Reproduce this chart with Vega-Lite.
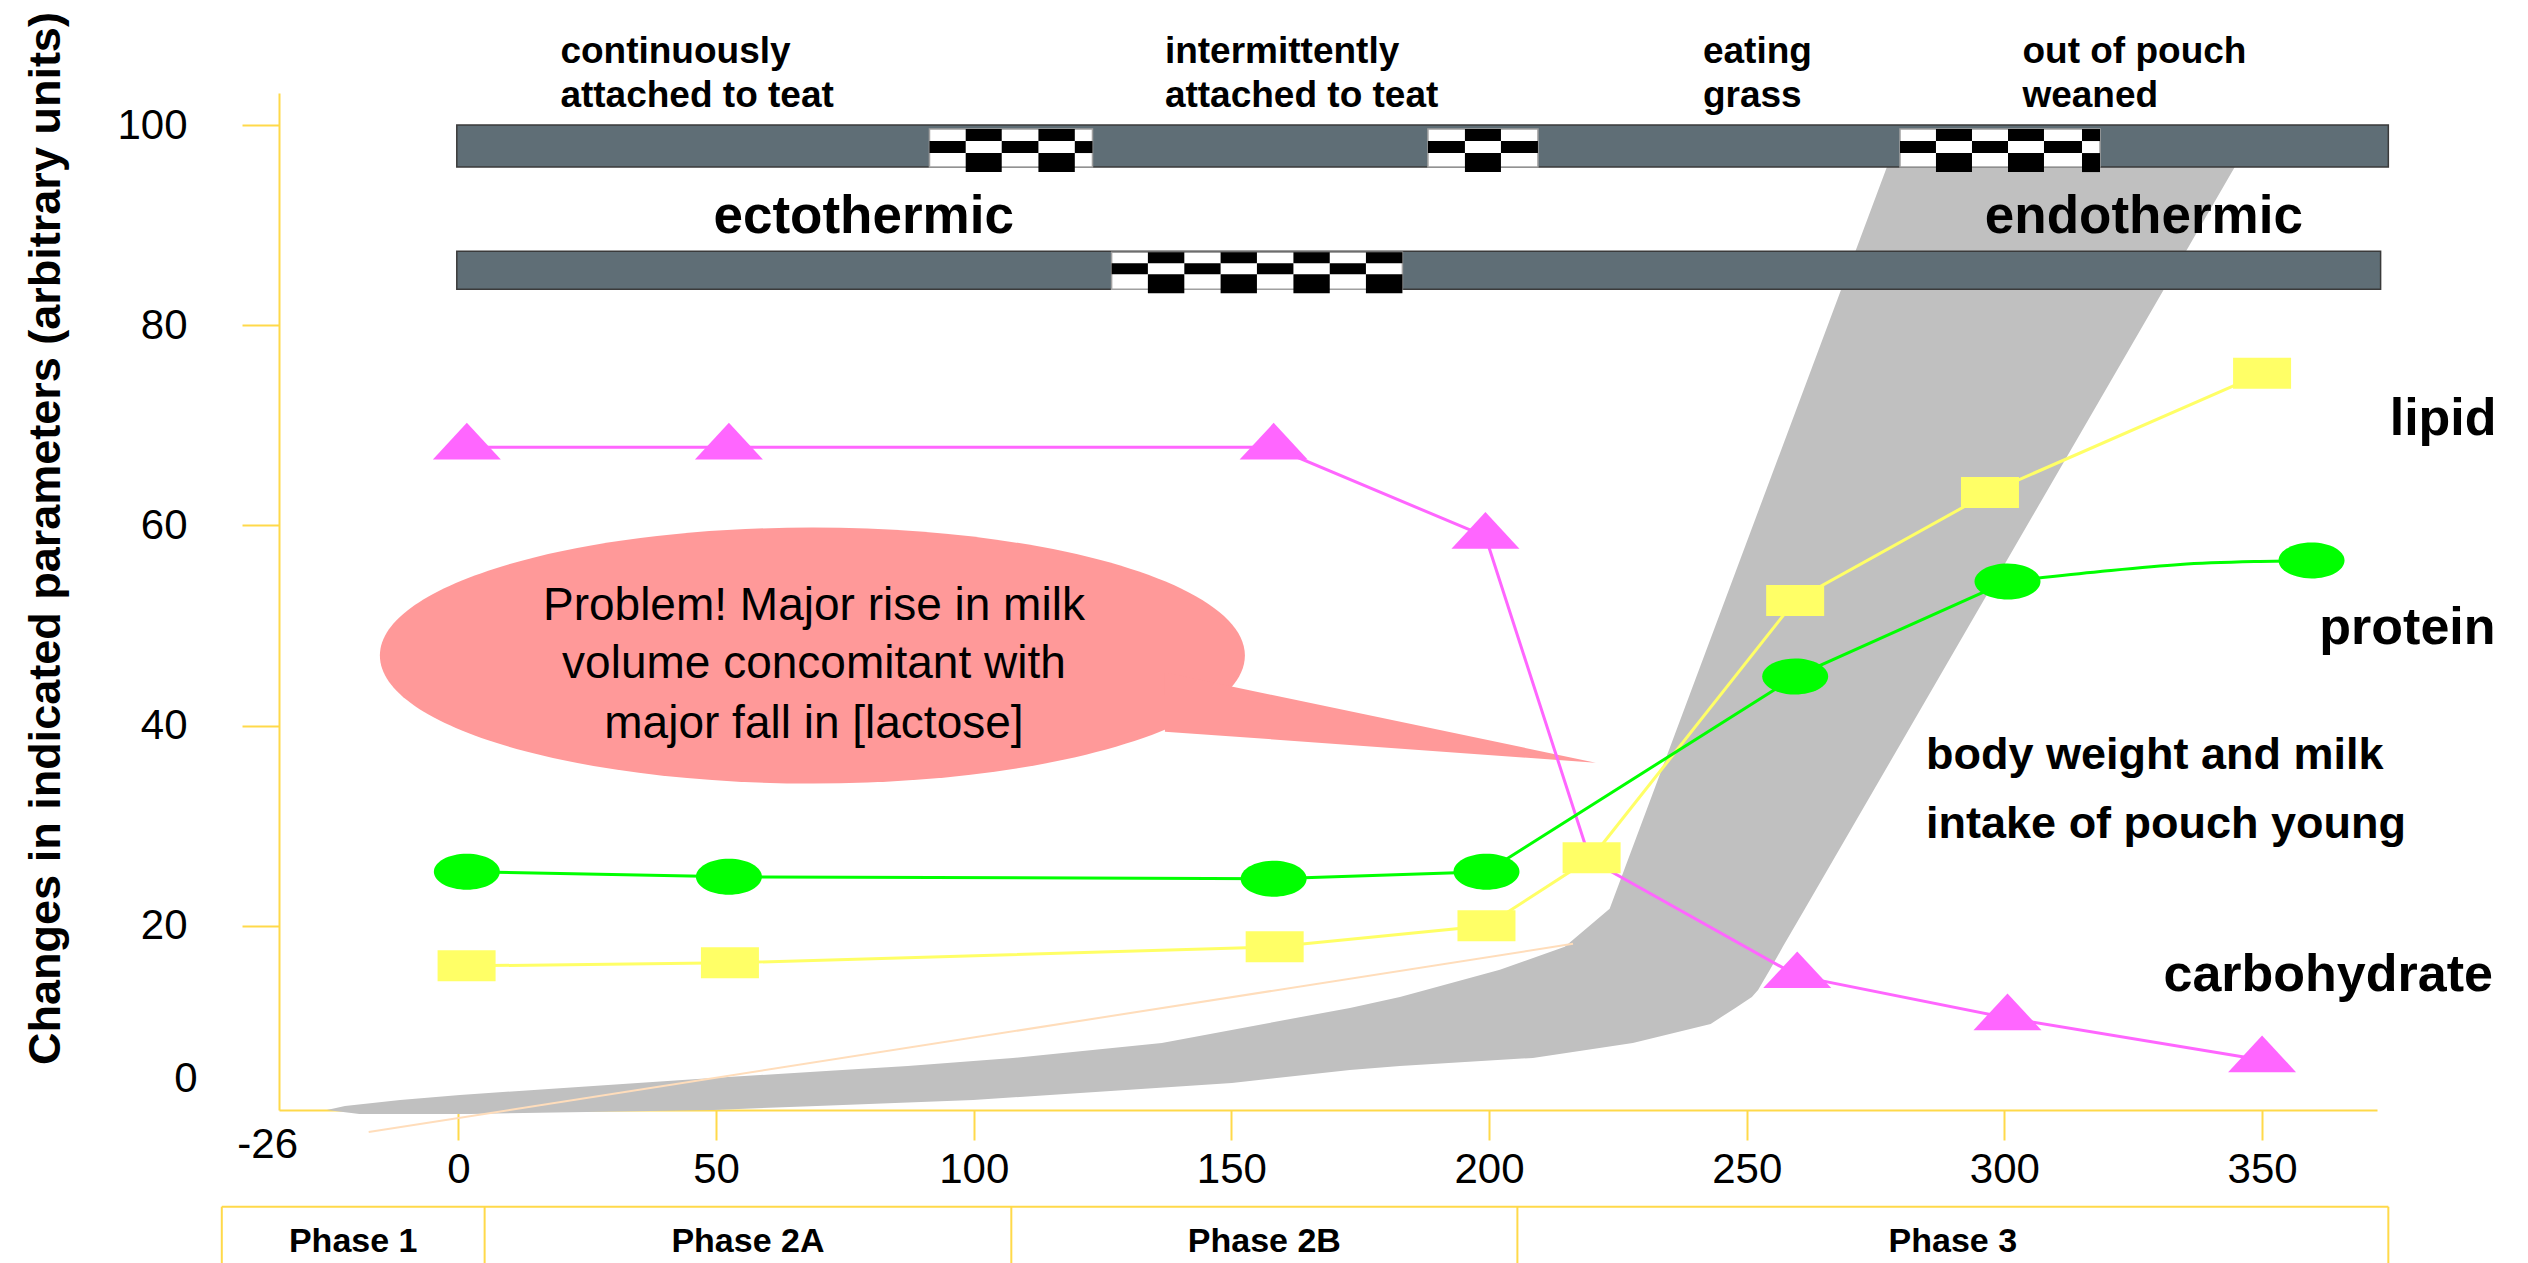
{
  "$schema": "https://vega.github.io/schema/vega-lite/v6.json",
  "autosize": {"type": "none"},
  "padding": {"left": 279, "top": 93, "right": 151, "bottom": 153},
  "width": 2098,
  "height": 1017,
  "background": "white",
  "config": {"view": {"stroke": null}, "font": "Liberation Sans"},
  "datasets": {
    "band": [
      {"y": 98.5, "xl": 279.2, "xr": 347.9},
      {"y": 95.8, "xl": 277.2, "xr": 344.7},
      {"y": 21.7, "xl": 223.4, "xr": 261.3},
      {"y": 17.9, "xl": 214.7, "xr": 257.0},
      {"y": 15.6, "xl": 202.1, "xr": 254.5},
      {"y": 13.6, "xl": 187.7, "xr": 252.2},
      {"y": 12.9, "xl": 182.7, "xr": 251.0},
      {"y": 11.8, "xl": 173.0, "xr": 247.8},
      {"y": 10.2, "xl": 156.3, "xr": 243.0},
      {"y": 8.3, "xl": 136.5, "xr": 227.9},
      {"y": 6.8, "xl": 107.6, "xr": 208.5},
      {"y": 6.0, "xl": 87.2, "xr": 182.7},
      {"y": 5.6, "xl": 74.5, "xr": 173.0},
      {"y": 4.8, "xl": 49.3, "xr": 158.8},
      {"y": 4.3, "xl": 34.8, "xr": 150.1},
      {"y": 3.1, "xl": 0.3, "xr": 114.8},
      {"y": 2.6, "xl": -11.3, "xr": 99.9},
      {"y": 2.0, "xl": -22.0, "xr": 69.6},
      {"y": 1.6, "xl": -25.5, "xr": 49.4},
      {"y": 1.2, "xl": -19.2, "xr": 2.2}
    ],
    "peach": [{"x": -17.4, "y": -0.6}, {"x": 216.3, "y": 18.2}],
    "bars": [
      {"x": -0.3, "x2": 374.5, "y": 100.0, "y2": 95.8},
      {"x": -0.3, "x2": 373.0, "y": 87.4, "y2": 83.6}
    ],
    "checkWhite": [
      {"x": 91.42, "x2": 123.05, "y": 99.6, "y2": 95.8},
      {"x": 188.14, "x2": 209.49, "y": 99.6, "y2": 95.8},
      {"x": 279.74, "x2": 318.55, "y": 99.6, "y2": 95.8},
      {"x": 126.76, "x2": 183.19, "y": 87.3, "y2": 83.6}
    ],
    "checkBlack": [
      {"x": 98.45, "x2": 105.44, "y": 99.6, "y2": 98.4},
      {"x": 112.56, "x2": 119.62, "y": 99.6, "y2": 98.4},
      {"x": 91.42, "x2": 98.45, "y": 98.4, "y2": 97.2},
      {"x": 105.44, "x2": 112.56, "y": 98.4, "y2": 97.2},
      {"x": 119.62, "x2": 123.05, "y": 98.4, "y2": 97.2},
      {"x": 98.45, "x2": 105.44, "y": 97.2, "y2": 95.3},
      {"x": 112.56, "x2": 119.62, "y": 97.2, "y2": 95.3},
      {"x": 195.32, "x2": 202.31, "y": 99.6, "y2": 98.4},
      {"x": 188.14, "x2": 195.32, "y": 98.4, "y2": 97.2},
      {"x": 202.31, "x2": 209.49, "y": 98.4, "y2": 97.2},
      {"x": 195.32, "x2": 202.31, "y": 97.2, "y2": 95.3},
      {"x": 286.72, "x2": 293.71, "y": 99.6, "y2": 98.4},
      {"x": 300.7, "x2": 307.68, "y": 99.6, "y2": 98.4},
      {"x": 315.06, "x2": 318.55, "y": 99.6, "y2": 98.4},
      {"x": 279.74, "x2": 286.72, "y": 98.4, "y2": 97.2},
      {"x": 293.71, "x2": 300.7, "y": 98.4, "y2": 97.2},
      {"x": 307.68, "x2": 315.06, "y": 98.4, "y2": 97.2},
      {"x": 286.72, "x2": 293.71, "y": 97.2, "y2": 95.3},
      {"x": 300.7, "x2": 307.68, "y": 97.2, "y2": 95.3},
      {"x": 315.06, "x2": 318.55, "y": 97.2, "y2": 95.3},
      {"x": 133.8, "x2": 140.87, "y": 87.3, "y2": 86.2},
      {"x": 147.91, "x2": 154.96, "y": 87.3, "y2": 86.2},
      {"x": 162.04, "x2": 169.09, "y": 87.3, "y2": 86.2},
      {"x": 176.11, "x2": 183.19, "y": 87.3, "y2": 86.2},
      {"x": 126.76, "x2": 133.8, "y": 86.2, "y2": 85.1},
      {"x": 140.87, "x2": 147.91, "y": 86.2, "y2": 85.1},
      {"x": 154.96, "x2": 162.04, "y": 86.2, "y2": 85.1},
      {"x": 169.09, "x2": 176.11, "y": 86.2, "y2": 85.1},
      {"x": 133.8, "x2": 140.87, "y": 85.1, "y2": 83.2},
      {"x": 147.91, "x2": 154.96, "y": 85.1, "y2": 83.2},
      {"x": 162.04, "x2": 169.09, "y": 85.1, "y2": 83.2},
      {"x": 176.11, "x2": 183.19, "y": 85.1, "y2": 83.2}
    ],
    "bubble": [{"x": 68.7, "y": 47.0}],
    "tail": [{"x": 137.1, "y": 45.3, "y2": 39.4}, {"x": 220.7, "y": 36.3, "y2": 36.3}],
    "bubbleText": [
      {"x": 69.0, "y": 52.0, "t": "Problem! Major rise in milk"},
      {"x": 69.0, "y": 46.2, "t": "volume concomitant with"},
      {"x": 69.0, "y": 40.2, "t": "major fall in [lactose]"}
    ],
    "carb": [
      {"x": 1.65, "y": 67.8, "m": 1},
      {"x": 52.5, "y": 67.8, "m": 1},
      {"x": 158.2, "y": 67.8, "m": 1},
      {"x": 199.3, "y": 58.9, "m": 1},
      {"x": 219.6, "y": 26.6, "m": 0},
      {"x": 259.8, "y": 15.0, "m": 1},
      {"x": 300.6, "y": 10.8, "m": 1},
      {"x": 350.0, "y": 6.6, "m": 1}
    ],
    "lipid": [
      {"x": 1.6, "y": 16.0},
      {"x": 52.7, "y": 16.3},
      {"x": 158.4, "y": 17.9},
      {"x": 199.5, "y": 20.0},
      {"x": 219.9, "y": 26.8},
      {"x": 259.4, "y": 52.5},
      {"x": 297.2, "y": 63.3},
      {"x": 350.0, "y": 75.2}
    ],
    "protein": [
      {"x": 1.65, "y": 25.4},
      {"x": 52.5, "y": 24.9},
      {"x": 158.2, "y": 24.7},
      {"x": 199.5, "y": 25.4},
      {"x": 259.4, "y": 44.9},
      {"x": 300.6, "y": 54.4},
      {"x": 359.6, "y": 56.5}
    ],
    "proteinCurve": [
      {"x": 300.6, "y": 54.4},
      {"x": 318.6, "y": 55.4},
      {"x": 334.1, "y": 56.1},
      {"x": 349.6, "y": 56.4},
      {"x": 359.6, "y": 56.5}
    ],
    "topLabels": [
      {"x": 19.8, "y": 106.2, "t": "continuously"},
      {"x": 19.8, "y": 101.8, "t": "attached to teat"},
      {"x": 137.1, "y": 106.2, "t": "intermittently"},
      {"x": 137.1, "y": 101.8, "t": "attached to teat"},
      {"x": 241.5, "y": 106.2, "t": "eating"},
      {"x": 241.5, "y": 101.8, "t": "grass"},
      {"x": 303.5, "y": 106.2, "t": "out of pouch"},
      {"x": 303.5, "y": 101.8, "t": "weaned"}
    ],
    "thermic": [
      {"x": 49.5, "y": 89.2, "t": "ectothermic"},
      {"x": 296.2, "y": 89.2, "t": "endothermic"}
    ],
    "seriesLabels": [
      {"x": 395.5, "y": 69.0, "t": "lipid"},
      {"x": 395.3, "y": 48.2, "t": "protein"},
      {"x": 394.8, "y": 13.5, "t": "carbohydrate"}
    ],
    "bodyLabels": [
      {"x": 284.8, "y": 35.7, "t": "body weight and milk"},
      {"x": 284.8, "y": 28.8, "t": "intake of pouch young"}
    ],
    "phaseH": [{"x": -45.9, "x2": 374.5, "y": -8.06}],
    "phaseV": [
      {"x": -45.9, "y": -8.06, "y2": -16},
      {"x": 5.1, "y": -8.06, "y2": -16},
      {"x": 107.3, "y": -8.06, "y2": -16},
      {"x": 205.5, "y": -8.06, "y2": -16},
      {"x": 374.5, "y": -8.06, "y2": -16}
    ],
    "phaseLabels": [
      {"x": -20.4, "y": -12.6, "t": "Phase 1"},
      {"x": 56.2, "y": -12.6, "t": "Phase 2A"},
      {"x": 156.4, "y": -12.6, "t": "Phase 2B"},
      {"x": 290.0, "y": -12.6, "t": "Phase 3"}
    ],
    "zeroLabel": [{"x": -50.6, "y": 4.7, "t": "0"}],
    "minLabel": [{"x": -37.0, "y": -1.9, "t": "-26"}]
  },
  "layer": [
    {
      "data": {"name": "band"},
      "mark": {"type": "area", "orient": "horizontal", "color": "#C0C0C0"},
      "encoding": {
        "y": {
          "field": "y", "type": "quantitative",
          "scale": {"domain": [1.6, 103.2], "nice": false, "zero": false},
          "axis": {
            "values": [20, 40, 60, 80, 100],
            "title": "Changes in indicated parameters (arbitrary units)",
            "titleFontSize": 45, "titleFontWeight": "bold", "titleColor": "black",
            "titleFont": "Liberation Sans",
            "titleX": -234, "titleY": 445, "titleAngle": 270,
            "titleAlign": "center", "titleBaseline": "middle",
            "grid": false,
            "domainColor": "#FFD94A", "domainWidth": 2,
            "tickColor": "#FFD94A", "tickWidth": 2, "tickSize": 37,
            "labelFontSize": 42, "labelColor": "black", "labelPadding": 55,
            "labelFont": "Liberation Sans"
          }
        },
        "x": {
          "field": "xl", "type": "quantitative",
          "scale": {"domain": [-34.8, 372.3], "nice": false, "zero": false},
          "axis": {
            "values": [0, 50, 100, 150, 200, 250, 300, 350],
            "title": null, "grid": false,
            "domainColor": "#FFD94A", "domainWidth": 2,
            "tickColor": "#FFD94A", "tickWidth": 2, "tickSize": 30,
            "labelFontSize": 42, "labelColor": "black", "labelPadding": 9,
            "labelFont": "Liberation Sans"
          }
        },
        "x2": {"field": "xr"}
      }
    },
    {
      "data": {"name": "peach"},
      "mark": {"type": "line", "color": "#FFDDBB", "strokeWidth": 2},
      "encoding": {
        "x": {"field": "x", "type": "quantitative"},
        "y": {"field": "y", "type": "quantitative"}
      }
    },
    {
      "data": {"name": "bars"},
      "mark": {"type": "rect", "fill": "#5F6E76", "stroke": "#3A3A3A", "strokeWidth": 1.5},
      "encoding": {
        "x": {"field": "x", "type": "quantitative"}, "x2": {"field": "x2"},
        "y": {"field": "y", "type": "quantitative"}, "y2": {"field": "y2"}
      }
    },
    {
      "data": {"name": "checkWhite"},
      "mark": {"type": "rect", "fill": "white", "stroke": "#A0A0A0", "strokeWidth": 1.5},
      "encoding": {
        "x": {"field": "x", "type": "quantitative"}, "x2": {"field": "x2"},
        "y": {"field": "y", "type": "quantitative"}, "y2": {"field": "y2"}
      }
    },
    {
      "data": {"name": "checkBlack"},
      "mark": {"type": "rect", "fill": "black"},
      "encoding": {
        "x": {"field": "x", "type": "quantitative"}, "x2": {"field": "x2"},
        "y": {"field": "y", "type": "quantitative"}, "y2": {"field": "y2"}
      }
    },
    {
      "data": {"name": "bubble"},
      "mark": {
        "type": "point", "filled": true, "fill": "#FF9999", "opacity": 1, "strokeWidth": 0,
        "size": 748225,
        "shape": "M -1 0 C -1 -0.1635 -0.5523 -0.296 0 -0.296 C 0.5523 -0.296 1 -0.1635 1 0 C 1 0.1635 0.5523 0.296 0 0.296 C -0.5523 0.296 -1 0.1635 -1 0 Z"
      },
      "encoding": {
        "x": {"field": "x", "type": "quantitative"},
        "y": {"field": "y", "type": "quantitative"}
      }
    },
    {
      "data": {"name": "tail"},
      "mark": {"type": "area", "color": "#FF9999", "opacity": 1},
      "encoding": {
        "x": {"field": "x", "type": "quantitative"},
        "y": {"field": "y", "type": "quantitative"}, "y2": {"field": "y2"}
      }
    },
    {
      "data": {"name": "bubbleText"},
      "mark": {"type": "text", "fontSize": 46, "font": "Liberation Sans", "color": "black", "align": "center", "baseline": "middle"},
      "encoding": {
        "x": {"field": "x", "type": "quantitative"},
        "y": {"field": "y", "type": "quantitative"},
        "text": {"field": "t"}
      }
    },
    {
      "data": {"name": "carb"},
      "mark": {"type": "line", "color": "#FF66FF", "strokeWidth": 3},
      "encoding": {
        "x": {"field": "x", "type": "quantitative"},
        "y": {"field": "y", "type": "quantitative"}
      }
    },
    {
      "data": {"name": "lipid"},
      "mark": {"type": "line", "color": "#FFFF66", "strokeWidth": 3},
      "encoding": {
        "x": {"field": "x", "type": "quantitative"},
        "y": {"field": "y", "type": "quantitative"}
      }
    },
    {
      "data": {"name": "protein"},
      "transform": [{"filter": "datum.x < 310"}],
      "mark": {"type": "line", "color": "#00FF00", "strokeWidth": 3},
      "encoding": {
        "x": {"field": "x", "type": "quantitative"},
        "y": {"field": "y", "type": "quantitative"}
      }
    },
    {
      "data": {"name": "proteinCurve"},
      "mark": {"type": "line", "color": "#00FF00", "strokeWidth": 3, "interpolate": "monotone"},
      "encoding": {
        "x": {"field": "x", "type": "quantitative"},
        "y": {"field": "y", "type": "quantitative"}
      }
    },
    {
      "data": {"name": "carb"},
      "transform": [{"filter": "datum.m == 1"}],
      "mark": {
        "type": "point", "filled": true, "fill": "#FF66FF", "opacity": 1, "strokeWidth": 0,
        "size": 4624,
        "shape": "M 0 -0.72 L 1 0.36 L -1 0.36 Z"
      },
      "encoding": {
        "x": {"field": "x", "type": "quantitative"},
        "y": {"field": "y", "type": "quantitative"}
      }
    },
    {
      "data": {"name": "protein"},
      "mark": {
        "type": "point", "filled": true, "fill": "#00FF00", "opacity": 1, "strokeWidth": 0,
        "size": 4356,
        "shape": "M -1 0 C -1 -0.301 -0.5523 -0.545 0 -0.545 C 0.5523 -0.545 1 -0.301 1 0 C 1 0.301 0.5523 0.545 0 0.545 C -0.5523 0.545 -1 0.301 -1 0 Z"
      },
      "encoding": {
        "x": {"field": "x", "type": "quantitative"},
        "y": {"field": "y", "type": "quantitative"}
      }
    },
    {
      "data": {"name": "lipid"},
      "mark": {
        "type": "point", "filled": true, "fill": "#FFFF66", "opacity": 1, "strokeWidth": 0,
        "size": 3364,
        "shape": "M -1 -0.534 L 1 -0.534 L 1 0.534 L -1 0.534 Z"
      },
      "encoding": {
        "x": {"field": "x", "type": "quantitative"},
        "y": {"field": "y", "type": "quantitative"}
      }
    },
    {
      "data": {"name": "topLabels"},
      "mark": {"type": "text", "fontSize": 37, "fontWeight": "bold", "font": "Liberation Sans", "color": "black", "align": "left", "baseline": "alphabetic"},
      "encoding": {
        "x": {"field": "x", "type": "quantitative"},
        "y": {"field": "y", "type": "quantitative"},
        "text": {"field": "t"}
      }
    },
    {
      "data": {"name": "thermic"},
      "mark": {"type": "text", "fontSize": 53, "fontWeight": "bold", "font": "Liberation Sans", "color": "black", "align": "left", "baseline": "alphabetic"},
      "encoding": {
        "x": {"field": "x", "type": "quantitative"},
        "y": {"field": "y", "type": "quantitative"},
        "text": {"field": "t"}
      }
    },
    {
      "data": {"name": "seriesLabels"},
      "mark": {"type": "text", "fontSize": 52, "fontWeight": "bold", "font": "Liberation Sans", "color": "black", "align": "right", "baseline": "alphabetic"},
      "encoding": {
        "x": {"field": "x", "type": "quantitative"},
        "y": {"field": "y", "type": "quantitative"},
        "text": {"field": "t"}
      }
    },
    {
      "data": {"name": "bodyLabels"},
      "mark": {"type": "text", "fontSize": 45, "fontWeight": "bold", "font": "Liberation Sans", "color": "black", "align": "left", "baseline": "alphabetic"},
      "encoding": {
        "x": {"field": "x", "type": "quantitative"},
        "y": {"field": "y", "type": "quantitative"},
        "text": {"field": "t"}
      }
    },
    {
      "data": {"name": "phaseH"},
      "mark": {"type": "rule", "color": "#FFD94A", "strokeWidth": 2},
      "encoding": {
        "x": {"field": "x", "type": "quantitative"}, "x2": {"field": "x2"},
        "y": {"field": "y", "type": "quantitative"}
      }
    },
    {
      "data": {"name": "phaseV"},
      "mark": {"type": "rule", "color": "#FFD94A", "strokeWidth": 2},
      "encoding": {
        "x": {"field": "x", "type": "quantitative"},
        "y": {"field": "y", "type": "quantitative"}, "y2": {"field": "y2"}
      }
    },
    {
      "data": {"name": "phaseLabels"},
      "mark": {"type": "text", "fontSize": 34, "fontWeight": "bold", "font": "Liberation Sans", "color": "black", "align": "center", "baseline": "alphabetic"},
      "encoding": {
        "x": {"field": "x", "type": "quantitative"},
        "y": {"field": "y", "type": "quantitative"},
        "text": {"field": "t"}
      }
    },
    {
      "data": {"name": "zeroLabel"},
      "mark": {"type": "text", "fontSize": 42, "font": "Liberation Sans", "color": "black", "align": "right", "baseline": "middle"},
      "encoding": {
        "x": {"field": "x", "type": "quantitative"},
        "y": {"field": "y", "type": "quantitative"},
        "text": {"field": "t"}
      }
    },
    {
      "data": {"name": "minLabel"},
      "mark": {"type": "text", "fontSize": 42, "font": "Liberation Sans", "color": "black", "align": "center", "baseline": "middle"},
      "encoding": {
        "x": {"field": "x", "type": "quantitative"},
        "y": {"field": "y", "type": "quantitative"},
        "text": {"field": "t"}
      }
    }
  ]
}
